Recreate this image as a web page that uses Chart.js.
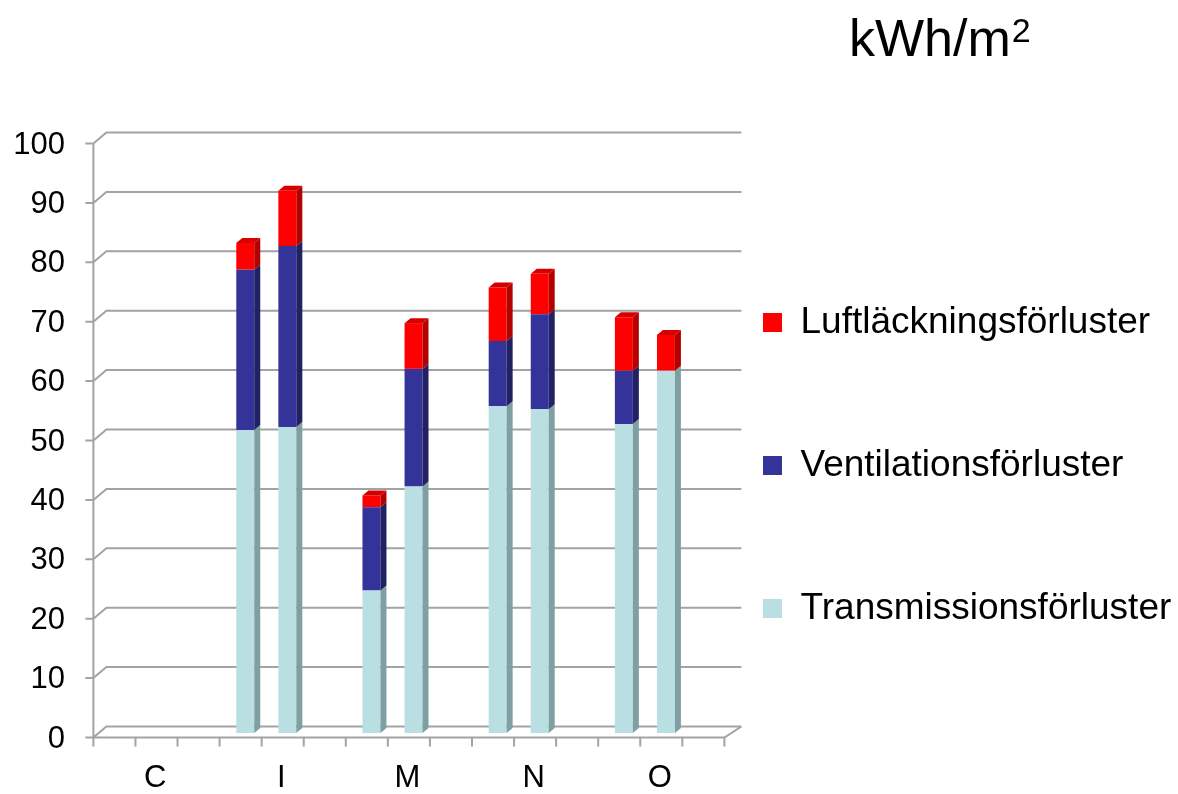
<!DOCTYPE html>
<html>
<head>
<meta charset="utf-8">
<title>kWh/m2</title>
<script src="https://cdn.jsdelivr.net/npm/chart.js@4.4.1/dist/chart.umd.min.js"></script>
<style>
  body { margin: 0; background: #fff; }
  #wrap { position: relative; width: 1178px; height: 794px; }
  #unit {
    position: absolute; left: 849px; top: 12px;
    font-family: 'Liberation Sans', Arial, sans-serif;
    font-size: 52px; line-height: 52px; color: #000;
  }
  #unit sup { font-size: 34px; position: relative; top: -8px; vertical-align: top; margin-left: 1px; }
</style>
</head>
<body>
<div id="wrap">
  <canvas id="lossChart" width="1178" height="794"></canvas>
  <div id="unit">kWh/m<sup>2</sup></div>
</div>
<script>
"use strict";

const categories = ['C', 'I', 'M', 'N', 'O'];
const seriesNames = ['Transmissionsförluster', 'Ventilationsförluster', 'Luftläckningsförluster'];

// two columns per category: first (left) and second (right)
const transmission1 = [null, 51, 24, 55, 52];
const transmission2 = [null, 51.5, 41.5, 54.5, 61];
const ventilation1 = [null, 27, 14, 11, 9];
const ventilation2 = [null, 30.5, 19.8, 16, 0];
const leakage1 = [null, 4.5, 2, 9, 9];
const leakage2 = [null, 9.3, 7.7, 6.8, 6];

const yMax = 100;
const yStep = 10;

// front / side / top colours of the columns
const transColors = ['#BADFE3', '#7F9FA2', '#A5CBCF'];
const ventColors = ['#333399', '#212163', '#2A2A80'];
const leakColors = ['#FF0000', '#B50000', '#D60000'];

// 3d look
const DEPTH_X = 13, DEPTH_Y = 11;     // depth of walls and floor
const BAR_DX = 6, BAR_DY = 5;         // depth of a column
const FRONT_X = 16.4, FRONT_Y = 4.5;  // front edge of floor relative to the column plane

Chart.defaults.font.family = "'Liberation Sans', Arial, sans-serif";
Chart.defaults.color = '#000';

function column(label, data, stack, colors) {
    return {
        label: label,
        data: data,
        stack: stack,
        backgroundColor: colors[0],
        sideColor: colors[1],
        topColor: colors[2],
        borderWidth: 0,
        categoryPercentage: 2 / 3,
        barPercentage: 0.427
    };
}

// back wall grid, left wall, floor and the front axis lines
const wallPlugin = {
    id: 'wall3d',
    beforeDatasetsDraw(chart) {
        const {ctx, scales: {x, y}} = chart;
        const left = x.left + FRONT_X;
        const right = x.right + FRONT_X;
        const base = y.getPixelForValue(0) + FRONT_Y;
        ctx.save();
        ctx.strokeStyle = '#A3A3A3';
        ctx.lineWidth = 2;
        ctx.beginPath();
        y.ticks.forEach(t => {
            const fy = y.getPixelForValue(t.value) + FRONT_Y;
            ctx.moveTo(left - 8, fy);
            ctx.lineTo(left, fy);
            ctx.lineTo(left + DEPTH_X, fy - DEPTH_Y);
            ctx.lineTo(right + 17, fy - DEPTH_Y);
        });
        ctx.moveTo(left, y.getPixelForValue(yMax) + FRONT_Y);
        ctx.lineTo(left, base);
        ctx.lineTo(right, base);
        ctx.lineTo(right + 17, base - DEPTH_Y);
        // three slots per category on the x axis
        const slots = categories.length * 3;
        for (let k = 0; k <= slots; k++) {
            const px = left + (right - left) * k / slots;
            ctx.moveTo(px, base);
            ctx.lineTo(px, base + 9);
        }
        ctx.stroke();
        ctx.restore();
    }
};

// side and top faces of every column
const columnPlugin = {
    id: 'columns3d',
    afterDatasetsDraw(chart) {
        const ctx = chart.ctx;
        const datasets = chart.data.datasets;
        const topmost = {};
        datasets.forEach((ds, di) => {
            ds.data.forEach((v, i) => { if (v) topmost[ds.stack + i] = di; });
        });
        ctx.save();
        datasets.forEach((ds, di) => {
            const meta = chart.getDatasetMeta(di);
            if (meta.hidden) return;
            meta.data.forEach((bar, i) => {
                if (!ds.data[i]) return;
                const {x, y, base, width} = bar.getProps(['x', 'y', 'base', 'width'], true);
                const l = x - width / 2, r = x + width / 2;
                const top = Math.min(y, base), bottom = Math.max(y, base);

                ctx.fillStyle = ds.sideColor;
                ctx.beginPath();
                ctx.moveTo(r, top);
                ctx.lineTo(r + BAR_DX, top - BAR_DY);
                ctx.lineTo(r + BAR_DX, bottom - BAR_DY);
                ctx.lineTo(r, bottom);
                ctx.closePath();
                ctx.fill();

                if (topmost[ds.stack + i] === di) {
                    ctx.fillStyle = ds.topColor;
                    ctx.beginPath();
                    ctx.moveTo(l, top);
                    ctx.lineTo(l + BAR_DX, top - BAR_DY);
                    ctx.lineTo(r + BAR_DX, top - BAR_DY);
                    ctx.lineTo(r, top);
                    ctx.closePath();
                    ctx.fill();
                }
            });
        });
        ctx.restore();
    }
};

const ctx = document.getElementById('lossChart').getContext('2d');

new Chart(ctx, {
    type: 'bar',
    data: {
        labels: categories,
        datasets: [
            column(seriesNames[0], transmission1, 'first', transColors),
            column(seriesNames[1], ventilation1, 'first', ventColors),
            column(seriesNames[2], leakage1, 'first', leakColors),
            column(seriesNames[0], transmission2, 'second', transColors),
            column(seriesNames[1], ventilation2, 'second', ventColors),
            column(seriesNames[2], leakage2, 'second', leakColors)
        ]
    },
    options: {
        responsive: false,
        animation: false,
        devicePixelRatio: 1,
        layout: {
            padding: {top: 139, right: 0, bottom: 0, left: 0}
        },
        scales: {
            x: {
                stacked: true,
                grid: {display: false, drawTicks: false},
                border: {display: false},
                ticks: {
                    font: {size: 31},
                    color: '#000',
                    padding: 27,
                    labelOffset: 15,
                    maxRotation: 0,
                    autoSkip: false
                },
                afterFit(scale) { scale.height = 61; }
            },
            y: {
                stacked: true,
                min: 0,
                max: yMax,
                grid: {display: false, drawTicks: false},
                border: {display: false},
                ticks: {
                    stepSize: yStep,
                    font: {size: 31},
                    color: '#000',
                    padding: 12,
                    labelOffset: 6
                },
                afterFit(scale) { scale.width = 77; }
            }
        },
        plugins: {
            tooltip: {enabled: false},
            legend: {
                position: 'right',
                align: 'end',
                fullSize: false,
                maxWidth: 470,
                labels: {
                    boxWidth: 19,
                    boxHeight: 19,
                    padding: 55,
                    color: '#000',
                    font: {size: 37, lineHeight: 88 / 37},
                    // one entry per series, top of the stack first
                    generateLabels(chart) {
                        return Chart.defaults.plugins.legend.labels.generateLabels(chart)
                            .filter(item => chart.data.datasets[item.datasetIndex].stack === 'first')
                            .map(item => Object.assign({}, item, {text: [item.text], lineWidth: 0}))
                            .reverse();
                    }
                }
            }
        }
    },
    plugins: [wallPlugin, columnPlugin]
});
</script>
</body>
</html>
